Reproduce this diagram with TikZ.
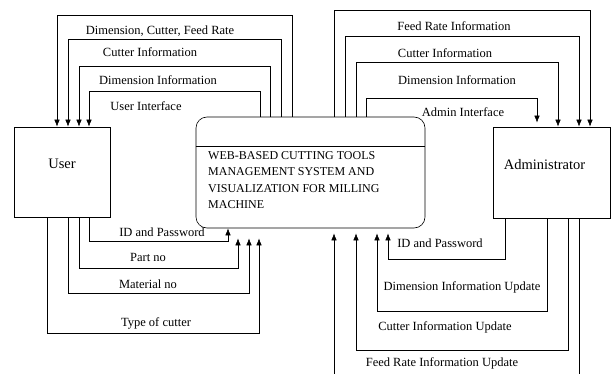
\documentclass[tikz,border=0pt]{standalone}
\usepackage{fontspec}
\setmainfont{Liberation Serif}
\usepackage{tikz}
\usetikzlibrary{arrows.meta,positioning}
\tikzstyle{entity} = [draw, rectangle, line width=0.6pt, inner sep=0pt]
\tikzstyle{process} = [draw, rectangle, rounded corners=11pt, line width=0.6pt, inner sep=0pt]
\tikzstyle{flow} = [line width=0.6pt, -{Latex[length=7pt,width=5.5pt]}]
\tikzstyle{lbl} = [font=\fontsize{12.5}{14}\selectfont, inner sep=0pt]

\begin{document}
\begin{tikzpicture}[x=1pt, y=-1pt]
  \useasboundingbox (0,0) rectangle (612,374);
  \clip (0,0) rectangle (612,374);
  % the three boxes
  \node [entity, minimum width=96pt, minimum height=90pt,
    label={[font=\fontsize{14.5}{16}\selectfont, yshift=8pt]center:User}] (user) at (62,172) {};
  \node [entity, minimum width=117pt, minimum height=91pt,
    label={[font=\fontsize{14.5}{16}\selectfont, xshift=-7pt, yshift=8pt]center:Administrator}] (admin) at (551.5,172.5) {};
  \node [process, minimum width=229pt, minimum height=111pt] (sys) at (310.5,172.5) {};
  \draw [line width=0.6pt] (sys.west |- 0,146) -- (sys.east |- 0,146);
  \node [anchor=north west, align=left, inner sep=2pt,
    font=\fontsize{12}{16.6}\selectfont] (title) at (206,149)
    {WEB-BASED CUTTING TOOLS\\MANAGEMENT SYSTEM AND\\VISUALIZATION FOR MILLING\\MACHINE};

  % system -> user
  \draw [flow] (292,0 |- sys.north) |- (57,15) -- (57,0 |- user.north);
  \draw [flow] (281,0 |- sys.north) |- (68,39) -- (68,0 |- user.north);
  \draw [flow] (270,0 |- sys.north) |- (79,66) -- (79,0 |- user.north);
  \draw [flow] (260,0 |- sys.north) |- (89,91) -- (89,0 |- user.north);
  \node [lbl] (l1) at (160,31) {Dimension, Cutter, Feed Rate};
  \node [lbl] (l2) at (150,52) {Cutter Information};
  \node [lbl] (l3) at (158,80) {Dimension Information};
  \node [lbl] (l4) at (146,106) {User Interface};

  % system -> admin
  \draw [flow] (334,0 |- sys.north) |- (590,10) -- (590,0 |- admin.north);
  \draw [flow] (345,0 |- sys.north) |- (579,36) -- (579,0 |- admin.north);
  \draw [flow] (356,0 |- sys.north) |- (558,62) -- (558,0 |- admin.north);
  \draw [flow, shorten >=4pt] (366,0 |- sys.north) |- (537,98) -- (537,0 |- admin.north);
  \node [lbl] (r1) at (454,26) {Feed Rate Information};
  \node [lbl] (r2) at (445,53) {Cutter Information};
  \node [lbl] (r3) at (457,80) {Dimension Information};
  \node [lbl] (r4) at (463,112) {Admin Interface};

  % user -> system
  \draw [flow] (89,0 |- user.south) |- (228,241) -- (228,0 |- sys.south);
  \draw [flow, shorten >=10pt] (79,0 |- user.south) |- (238,268) -- (238,0 |- sys.south);
  \draw [flow, shorten >=10pt] (68,0 |- user.south) |- (249,293) -- (249,0 |- sys.south);
  \draw [flow, shorten >=10pt] (47,0 |- user.south) |- (259,333) -- (259,0 |- sys.south);
  \node [lbl] (b1) at (162,232) {ID and Password};
  \node [lbl] (b2) at (148,257) {Part no};
  \node [lbl] (b3) at (148,284) {Material no};
  \node [lbl] (b4) at (156,323) {Type of cutter};

  % admin -> system
  \draw [flow, shorten >=5pt] (505,0 |- admin.south) |- (388,259) -- (388,0 |- sys.south);
  \draw [flow, shorten >=5pt] (547,0 |- admin.south) |- (377,311) -- (377,0 |- sys.south);
  \draw [flow, shorten >=5pt] (568,0 |- admin.south) |- (356,350) -- (356,0 |- sys.south);
  \draw [flow, shorten >=5pt] (579,0 |- admin.south) |- (334,390) -- (334,0 |- sys.south);
  \node [lbl] (a1) at (440,243) {ID and Password};
  \node [lbl] (a2) at (462,287) {Dimension Information Update};
  \node [lbl] (a3) at (445,327) {Cutter Information Update};
  \node [lbl] (a4) at (442,363) {Feed Rate Information Update};
\end{tikzpicture}
\end{document}
